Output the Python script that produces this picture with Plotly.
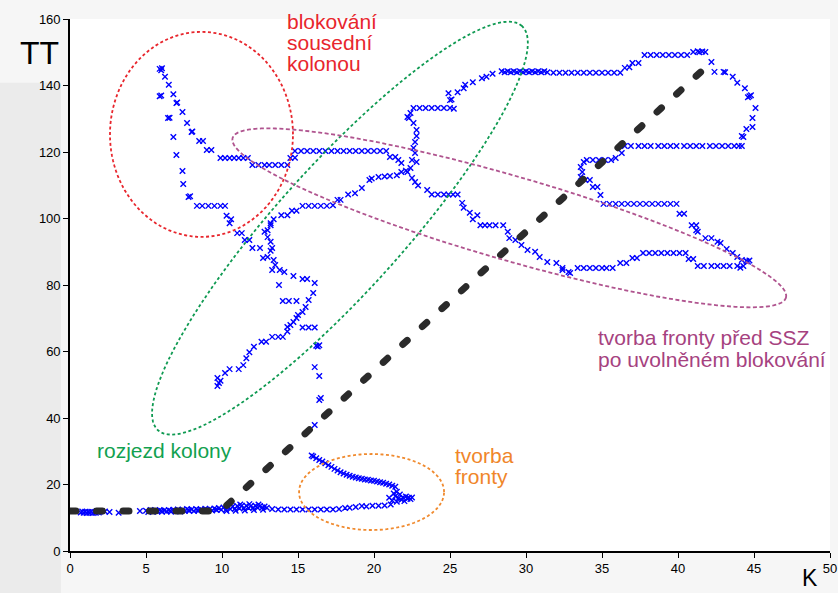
import math
import plotly.graph_objects as go

# ---- measured trajectory: density K [veh/km] vs travel time TT [s] ----
free_flow = [
    (0.7, 11.6), (0.8, 11.9), (0.9, 11.5), (1.0, 11.8), (1.1, 11.4), (1.2, 11.7),
    (1.3, 11.5), (1.4, 11.8), (1.5, 11.4), (1.6, 11.7), (1.7, 11.5), (1.8, 11.8),
    (1.9, 11.6), (2.3, 11.9), (2.6, 11.7), (3.2, 11.5), (4.6, 12.0),
    (5.0, 12.1), (5.15, 11.7), (5.3, 12.3), (5.45, 11.8), (5.6, 12.2), (5.75, 11.9),
    (5.9, 12.3), (6.05, 11.8), (6.2, 12.2), (6.35, 11.9), (6.5, 12.3), (6.65, 11.8),
    (6.8, 12.4), (6.95, 12.0), (7.1, 12.5), (7.25, 11.9), (7.4, 12.4), (7.55, 12.0),
    (7.7, 12.6), (7.85, 12.1), (8.0, 12.5), (8.15, 12.0), (8.3, 12.6), (8.45, 12.1),
    (8.6, 12.5), (8.75, 12.2), (8.9, 12.7), (9.05, 12.1), (9.2, 12.6), (9.35, 12.2),
    (9.5, 12.8), (9.65, 12.3), (9.8, 12.9), (9.95, 12.4), (10.1, 13.1), (10.25, 12.4),
    (10.4, 13.3), (10.55, 12.6), (10.7, 13.4), (10.85, 12.7), (11.0, 13.5), (11.15, 12.8),
    (11.3, 13.6), (11.45, 12.9), (11.6, 13.6), (11.75, 12.9), (11.9, 13.5), (12.05, 13.0),
    (12.2, 13.6), (12.35, 13.0), (12.5, 13.5), (12.65, 13.1), (12.8, 13.4), (12.95, 13.0),
    (10.3, 12.0), (10.9, 12.1), (11.5, 12.2), (12.1, 12.3), (12.7, 12.4),
    (5.4, 12.0), (6.0, 12.1), (6.6, 12.1), (7.2, 12.2), (7.8, 12.3), (8.4, 12.3),
    (9.0, 12.4), (9.6, 12.5), (11.2, 14.0), (11.8, 14.1), (12.4, 14.0),
]

queue_lower = [
    (13.3, 12.6), (13.7, 12.5), (14.1, 12.5), (14.5, 12.5), (14.9, 12.5), (15.3, 12.5),
    (15.7, 12.5), (16.1, 12.5), (16.5, 12.5), (16.9, 12.5), (17.3, 12.5), (17.7, 12.6),
    (18.1, 12.9), (18.4, 13.0), (18.8, 13.2), (19.2, 13.5), (19.5, 13.4), (19.9, 13.6),
    (20.3, 13.6), (20.7, 13.7), (21.1, 14.0),
    (21.2, 15.2), (21.4, 16.5), (21.5, 14.8), (21.6, 15.8), (21.7, 17.0), (21.8, 15.4),
    (21.9, 16.2), (22.0, 15.0), (22.1, 16.4), (22.2, 15.7), (22.3, 16.0), (22.4, 15.6),
    (22.5, 16.1), (21.3, 17.3), (21.5, 17.8), (21.0, 16.0),
]

queue_upper = [
    (21.4, 19.3), (21.2, 19.6), (21.0, 20.0), (20.8, 20.2), (20.6, 20.5), (20.4, 20.7),
    (20.2, 20.9), (20.0, 21.1), (19.8, 21.2), (19.6, 21.4), (19.4, 21.5), (19.2, 21.7),
    (19.0, 21.9), (18.8, 22.1), (18.6, 22.3), (18.4, 22.6), (18.2, 22.9), (18.0, 23.3),
    (17.8, 23.7), (17.6, 24.2), (17.4, 24.7), (17.2, 25.3), (17.0, 25.8), (16.8, 26.4),
    (16.6, 26.9), (16.4, 27.4), (16.2, 27.9), (16.0, 28.4), (15.9, 28.7),
    (16.1, 37.9), (16.4, 45.4), (16.5, 46.0), (16.4, 52.6), (16.1, 55.3),
    (16.2, 61.7), (16.4, 61.9), (16.3, 61.5),
]

discharge = [
    (9.7, 52.0), (9.8, 50.5), (9.7, 49.6), (9.9, 51.2), (10.2, 53.5), (10.5, 54.7),
    (11.1, 54.7), (11.4, 55.9), (11.6, 58.0), (11.8, 59.8), (12.1, 61.4), (12.6, 62.9),
    (12.9, 62.9), (13.3, 64.4), (13.7, 64.4), (14.0, 64.4), (14.3, 66.0), (14.3, 67.4),
    (14.5, 68.0), (14.7, 68.9), (14.9, 70.1), (15.0, 71.0), (15.3, 71.9), (15.5, 73.4),
    (15.7, 75.5), (16.0, 77.6), (16.1, 80.6),
    (14.0, 75.2), (14.4, 75.2), (14.9, 75.2), (15.3, 67.2), (15.7, 67.2), (16.1, 67.2),
    (13.75, 80.0),
    (15.6, 81.8), (15.3, 81.8), (14.7, 82.7), (14.1, 83.9), (13.8, 84.5), (13.3, 84.5),
    (13.5, 86.0), (13.4, 87.5), (13.0, 88.4), (12.7, 88.1), (13.3, 91.1), (13.2, 90.3),
    (12.5, 91.1), (12.0, 91.1), (13.2, 93.0), (13.0, 94.4), (12.8, 96.0), (13.0, 96.5),
    (13.2, 98.0), (13.4, 99.8), (13.2, 98.6), (13.9, 101.0), (14.3, 101.0), (14.6, 102.3),
    (14.9, 102.3), (15.3, 103.8), (15.7, 103.8), (16.1, 103.8), (16.5, 103.8),
    (16.9, 103.8), (17.3, 104.0), (17.6, 105.6), (17.8, 105.6), (18.3, 107.2),
    (18.75, 107.6), (19.2, 109.2), (19.7, 111.6), (19.85, 112.0), (20.3, 112.5),
    (20.7, 112.6), (21.05, 112.8), (21.5, 113.0), (21.8, 114.0), (22.2, 114.0), (22.1, 114.4),
]

blocking = [
    (5.9, 145.0), (6.05, 145.2), (6.0, 144.6), (6.25, 142.6), (6.5, 140.2), (5.9, 136.8),
    (6.0, 137.0), (6.8, 137.4), (7.0, 134.7), (7.05, 134.9), (6.45, 130.2), (6.55, 130.3),
    (7.4, 132.0), (7.7, 128.7), (8.0, 126.0), (8.05, 126.2), (6.8, 124.5), (8.5, 123.3),
    (8.75, 123.3), (9.0, 120.6), (9.3, 120.6), (7.0, 119.1),
    (9.9, 118.2), (10.2, 118.2), (10.5, 118.2), (10.8, 118.2), (11.1, 118.2), (11.4, 118.2),
    (11.7, 118.2), (7.4, 114.3),
    (12.0, 116.1), (12.4, 116.1), (12.8, 116.1), (13.1, 116.1), (13.5, 116.1), (13.9, 116.1),
    (14.3, 116.1), (14.5, 118.2), (14.8, 118.3),
    (7.45, 110.4), (7.8, 106.5), (7.9, 106.7),
    (8.35, 103.8), (8.7, 103.8), (9.1, 103.8), (9.5, 103.8), (9.9, 103.8), (10.2, 103.8),
    (10.3, 100.8), (10.6, 99.8), (10.5, 98.6), (11.0, 95.6), (11.3, 95.6), (11.5, 93.5),
    (11.8, 93.5),
    (14.8, 120.3), (15.2, 120.3), (15.6, 120.3), (16.0, 120.3), (16.4, 120.3), (16.8, 120.3),
    (17.2, 120.3), (17.6, 120.3), (18.0, 120.3), (18.4, 120.3), (18.8, 120.3), (19.2, 120.3),
    (19.6, 120.3), (20.0, 120.3), (20.4, 120.3), (20.8, 120.3),
    (21.05, 118.5), (21.4, 118.5), (21.6, 117.6), (21.8, 116.7),
]

release = [
    (22.4, 115.2), (22.8, 117.0), (22.5, 117.6), (22.7, 119.7), (22.6, 121.2), (22.7, 123.0),
    (22.8, 124.8), (22.8, 126.6), (22.6, 128.7), (22.3, 130.2), (22.2, 130.5), (22.4, 131.7),
    (22.6, 133.2), (23.0, 133.2), (23.4, 133.2), (23.8, 133.2), (24.2, 133.2), (24.6, 133.2),
    (25.0, 133.2), (25.25, 133.0),
    (25.0, 135.6), (25.1, 135.8), (24.9, 137.7), (25.5, 138.0), (25.9, 139.2), (26.0, 140.2),
    (26.5, 141.0), (27.1, 142.2), (27.4, 142.6), (27.8, 143.5),
    (28.4, 144.3), (28.6, 144.0), (28.8, 144.3), (29.0, 144.0), (29.2, 144.3), (29.4, 144.0),
    (29.6, 144.3), (29.8, 144.0), (30.0, 144.3), (30.2, 144.0), (30.4, 144.3), (30.6, 144.0),
    (30.8, 144.3), (31.0, 144.0), (31.2, 144.3), (31.4, 144.0),
    (31.8, 143.8), (32.2, 143.8), (32.6, 143.8), (33.0, 143.8), (33.4, 143.8), (33.8, 143.8),
    (34.2, 143.8), (34.6, 143.8), (35.0, 143.8), (35.4, 143.8), (35.8, 143.8), (36.2, 143.8),
    (36.5, 145.3), (36.8, 145.5), (37.0, 146.8), (37.4, 146.8),
    (37.8, 149.2), (38.2, 149.2), (38.6, 149.2), (39.0, 149.2), (39.4, 149.2), (39.8, 149.2),
    (40.2, 149.2), (40.6, 149.2),
    (41.0, 150.1), (41.3, 150.3), (41.4, 150.0), (41.6, 150.2), (41.8, 150.1),
    (42.2, 147.1), (42.4, 144.1), (43.0, 144.1), (43.1, 144.0), (43.6, 142.6), (43.9, 140.8),
    (44.4, 139.2), (44.7, 136.8), (44.8, 137.1), (44.6, 136.5), (45.1, 133.2), (44.9, 130.2),
    (44.9, 127.5), (44.5, 126.9), (44.3, 124.5), (44.2, 124.8),
    (36.5, 121.8), (36.9, 121.8), (37.4, 121.8), (37.8, 121.8), (38.2, 121.8), (38.7, 121.8),
    (39.1, 121.8), (39.5, 121.8), (39.9, 121.8), (40.4, 121.8), (40.8, 121.8), (41.2, 121.8),
    (41.6, 121.8), (42.1, 121.8), (42.5, 121.8), (42.9, 121.8), (43.3, 121.8), (43.7, 121.8),
    (44.0, 121.8), (44.2, 121.8),
    (36.3, 119.7), (35.9, 118.2),
    (34.0, 117.6), (34.4, 117.6), (34.8, 117.6), (35.2, 117.6), (35.6, 117.6),
    (33.8, 117.0), (33.6, 115.5), (33.7, 114.0), (33.6, 112.5), (33.9, 111.6), (34.2, 111.6),
    (34.4, 109.5), (34.7, 109.5), (34.9, 107.1),
    (35.1, 104.4), (35.5, 104.4), (35.9, 104.4), (36.3, 104.4), (36.7, 104.4), (37.1, 104.4),
    (37.5, 104.4), (37.9, 104.4), (38.3, 104.4), (38.7, 104.4), (39.1, 104.4), (39.5, 104.4),
    (39.9, 104.4),
    (40.1, 101.4), (40.4, 101.4), (40.9, 98.0), (41.2, 98.0), (41.2, 96.5), (41.3, 96.0),
    (41.8, 94.1), (42.2, 94.1), (42.6, 93.0), (42.8, 92.6), (43.2, 90.8), (43.6, 89.6),
    (43.9, 88.4), (44.2, 87.5), (44.5, 87.2), (44.6, 87.0), (44.7, 87.4),
]

queue_return = [
    (41.3, 85.7), (41.7, 85.7), (42.2, 85.7), (42.6, 85.7), (43.0, 85.7), (43.4, 85.7),
    (43.9, 85.7), (44.3, 85.7), (44.1, 85.2),
    (40.7, 87.8), (41.0, 87.8),
    (37.7, 89.6), (38.1, 89.6), (38.5, 89.6), (38.9, 89.6), (39.3, 89.6), (39.7, 89.6),
    (40.1, 89.6), (40.5, 89.6),
    (37.0, 88.1), (37.3, 88.1), (36.2, 86.6), (36.6, 86.6),
    (33.4, 85.1), (33.8, 85.1), (34.2, 85.1), (34.6, 85.1), (35.0, 85.1), (35.3, 85.1),
    (35.7, 85.1),
    (32.8, 83.9), (32.9, 83.6), (32.4, 84.5), (32.4, 85.1), (32.0, 86.6), (31.4, 86.9),
    (30.9, 88.4), (30.6, 90.0), (30.1, 90.5), (29.7, 92.0), (29.3, 93.5), (28.9, 94.1),
    (28.8, 96.0),
    (27.0, 98.0), (27.3, 98.0), (27.6, 98.0), (28.0, 98.0), (28.5, 98.0),
    (26.5, 99.8), (26.8, 101.0), (26.3, 101.7), (25.9, 103.2), (25.8, 104.7),
    (23.8, 107.2), (24.2, 107.2), (24.6, 107.2), (24.9, 107.2), (25.2, 107.2), (25.5, 107.2),
    (23.5, 108.6), (22.9, 109.9), (22.7, 111.0), (22.5, 112.2),
]

# triangular model relation (dashed black line)
model_k = [0.0, 9.9, 42.2]
model_tt = [12.0, 12.0, 147.0]

# axis setup
x_range = [0, 50]
y_range = [0, 160]
x_ticks = [0, 5, 10, 15, 20, 25, 30, 35, 40, 45, 50]
y_ticks = [0, 20, 40, 60, 80, 100, 120, 140, 160]

W, H = 838, 593
M = dict(l=70, r=8, t=19, b=42)
px_per_k = (W - M["l"] - M["r"]) / (x_range[1] - x_range[0])
px_per_tt = (H - M["t"] - M["b"]) / (y_range[1] - y_range[0])

segments = [free_flow, queue_lower, queue_upper, discharge, blocking, release, queue_return]
pts_k = [p[0] for seg in segments for p in seg]
pts_tt = [p[1] for seg in segments for p in seg]

fig = go.Figure()
fig.add_trace(go.Scatter(
    x=pts_k, y=pts_tt, mode="markers",
    marker=dict(symbol="x-thin", size=5.5, color="#0000ff",
                line=dict(width=1.4, color="#0000ff")),
    hoverinfo="skip", showlegend=False,
))
fig.add_trace(go.Scatter(
    x=model_k, y=model_tt, mode="lines",
    line=dict(color="#2b2b2b", width=7, dash="6px,20.5px"),
    hoverinfo="skip", showlegend=False,
))


def ellipse_path(ck, ctt, a_px, b_px, angle_deg, n=120):
    """Closed SVG path (data coords) for an ellipse whose axes are given in screen pixels."""
    th = math.radians(angle_deg)
    parts = []
    for i in range(n + 1):
        t = 2 * math.pi * i / n
        u = a_px * math.cos(t)
        v = b_px * math.sin(t)
        dx = u * math.cos(th) - v * math.sin(th)
        dy = u * math.sin(th) + v * math.cos(th)
        k = ck + dx / px_per_k
        tt = ctt + dy / px_per_tt
        parts.append(("M" if i == 0 else "L") + f"{k:.3f},{tt:.3f}")
    return " ".join(parts) + " Z"


groups = [
    # (center K, center TT, semi-axis a px, semi-axis b px, angle, colour, dash)
    (8.65, 125.3, 91.5, 102.5, 0, "#e8262d", "3px,2.5px"),
    (17.76, 97.1, 272, 63, 48, "#0f9a52", "3px,2.5px"),
    (28.9, 100.2, 288, 42, -16.1, "#b0548f", "4px,2.5px"),
    (19.84, 17.74, 72.5, 38, 0, "#f08a2e", "3px,2.5px"),
]
for ck, ctt, a, b, ang, col, dash in groups:
    fig.add_shape(type="path", path=ellipse_path(ck, ctt, a, b, ang),
                  xref="x", yref="y", line=dict(color=col, width=1.8, dash=dash),
                  fillcolor="rgba(0,0,0,0)", layer="above")

# faint grey backdrop left of the plot
fig.add_shape(type="rect", xref="paper", yref="paper",
              x0=-0.0921, x1=-0.012, y0=-0.079, y1=0.88,
              fillcolor="#ebebeb", line=dict(width=0), layer="below")

FONT = "Liberation Sans, Arial, sans-serif"
labels = [
    ("blokování", 14.14, 159.4, "#e8262d", 21),
    ("sousední", 14.14, 152.9, "#e8262d", 21),
    ("kolonou", 14.14, 146.5, "#e8262d", 21),
    ("tvorba fronty před SSZ", 34.6, 64.1, "#a6427f", 21),
    ("po uvolněném blokování", 34.6, 57.7, "#a6427f", 21),
    ("rozjezd kolony", 1.64, 30.1, "#12a150", 21),
    ("tvorba", 25.2, 28.6, "#f0862a", 21),
    ("fronty", 25.2, 22.3, "#f0862a", 21),
]
for txt, k, tt, col, size in labels:
    fig.add_annotation(x=k, y=tt, xref="x", yref="y", text=txt, showarrow=False,
                       xanchor="left", yanchor="middle",
                       font=dict(family=FONT, size=size, color=col))

# axis names placed in the margins
fig.add_annotation(x=-0.0684, y=0.936, xref="paper", yref="paper", text="TT",
                   showarrow=False, xanchor="left", yanchor="middle",
                   font=dict(family=FONT, size=32, color="black"))
fig.add_annotation(x=0.962, y=-0.078, xref="paper", yref="paper", text="K",
                   showarrow=False, xanchor="left", yanchor="bottom", borderpad=0,
                   font=dict(family=FONT, size=23, color="black"))

axis_common = dict(showgrid=False, zeroline=False, showline=True, linecolor="black",
                   linewidth=1.6, ticks="outside", ticklen=5, tickwidth=1.2,
                   tickcolor="black", tickfont=dict(family=FONT, size=13, color="black"),
                   mirror=False, fixedrange=True, automargin=False)
fig.update_xaxes(range=x_range, tickvals=x_ticks, **axis_common)
fig.update_yaxes(range=y_range, tickvals=y_ticks, **axis_common)

fig.update_layout(
    width=W, height=H, margin=M, autosize=False,
    paper_bgcolor="#f6f6f6", plot_bgcolor="white",
    showlegend=False,
)

page_fix = """
document.body.style.margin = '0';
document.body.style.overflow = 'hidden';
var gd = document.getElementById('{plot_id}');
function caps(){ gd.querySelectorAll('.scatterlayer path.js-line').forEach(function(p){ p.style.strokeLinecap='round'; }); }
caps();
gd.on('plotly_afterplot', caps);
"""
fig.write_html("out.html", post_script=page_fix, config={"responsive": False})
